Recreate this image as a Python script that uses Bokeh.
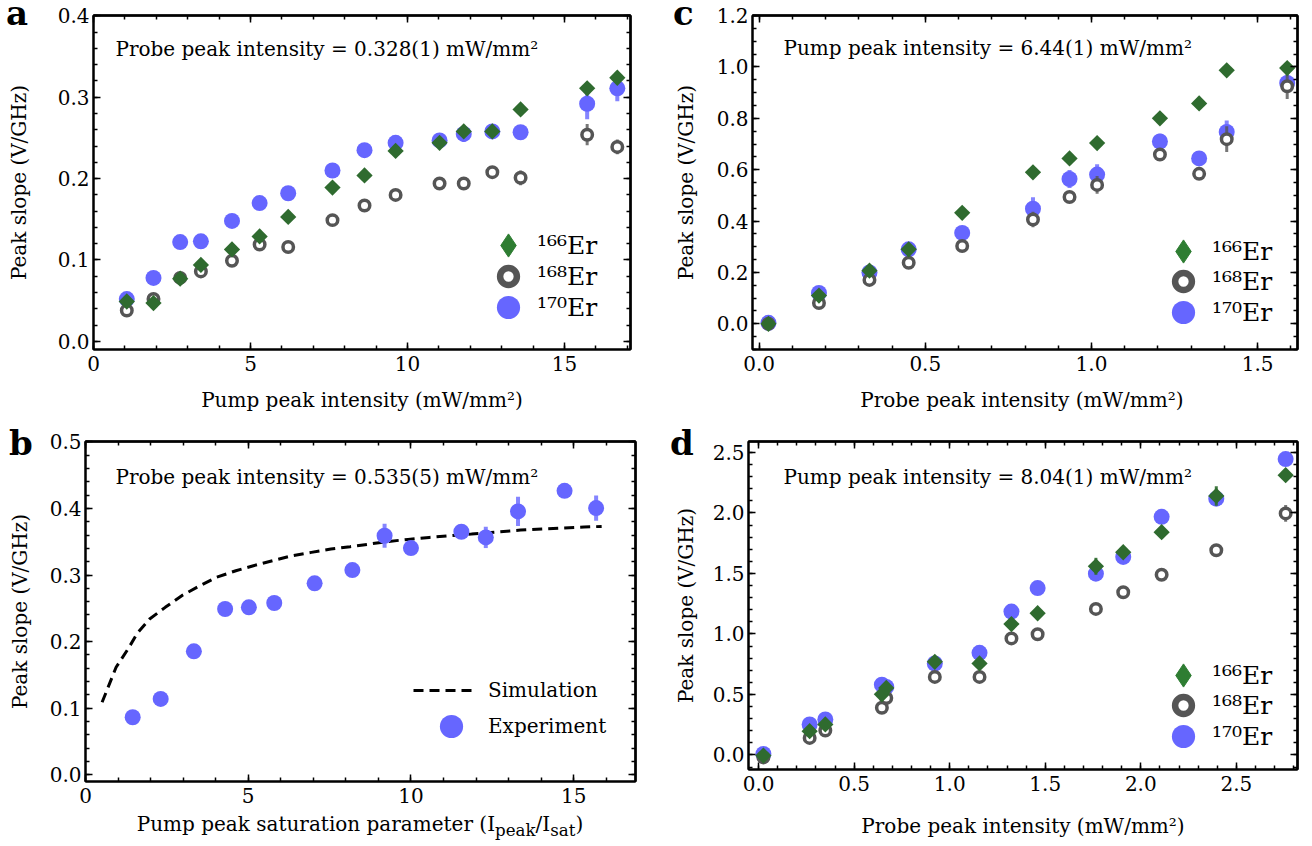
import math
from bokeh.plotting import figure
from bokeh.layouts import column, row
from bokeh.models import (LinearAxis, SingleIntervalTicker, FixedTicker, Range1d, Label, Legend,
                          LegendItem, NumeralTickFormatter, Div)
from bokeh.core.properties import value
from bokeh.embed import file_html
from bokeh.resources import INLINE

FONT = "DejaVu Serif"
GREEN = "#2f6b2f"
GREEN_LEG = "#2e7d32"
GRAY = "#555555"
BLUE = "#6666ff"

# ---------------- data ----------------
# panel a : slope vs pump intensity (probe 0.328 mW/mm2)
a_x = [1.06, 1.91, 2.76, 3.42, 4.41, 5.29, 6.20, 7.61, 8.63, 9.62, 11.02, 11.79, 12.70, 13.60, 15.72, 16.68]
a_166 = [0.049, 0.047, 0.077, 0.094, 0.113, 0.129, 0.153, 0.189, 0.204, 0.234, 0.244, 0.258, 0.258, 0.285, 0.311, 0.324]
a_168 = [0.038, 0.052, 0.078, 0.086, 0.099, 0.119, 0.116, 0.149, 0.167, 0.180, 0.194, 0.194, 0.208, 0.201, 0.254, 0.239]
a_170 = [0.052, 0.078, 0.122, 0.123, 0.148, 0.170, 0.182, 0.210, 0.235, 0.244, 0.247, 0.255, 0.258, 0.257, 0.292, 0.311]
a_166_err = [0.003, 0.003, 0.003, 0.004, 0.003, 0.004, 0.003, 0.004, 0.004, 0.004, 0.004, 0.006, 0.004, 0.004, 0.006, 0.007]
a_168_err = [0.003, 0.004, 0.003, 0.004, 0.003, 0.004, 0.003, 0.004, 0.004, 0.006, 0.005, 0.008, 0.006, 0.009, 0.013, 0.009]
a_170_err = [0.003, 0.003, 0.003, 0.005, 0.003, 0.004, 0.004, 0.009, 0.004, 0.008, 0.004, 0.010, 0.004, 0.004, 0.019, 0.016]

# panel b : slope vs saturation parameter (probe 0.535 mW/mm2)
b_x = [1.45, 2.31, 3.33, 4.29, 5.02, 5.80, 7.04, 8.20, 9.19, 10.00, 11.55, 12.30, 13.29, 14.72, 15.69]
b_y = [0.0865, 0.114, 0.1855, 0.249, 0.2515, 0.258, 0.2875, 0.3075, 0.359, 0.3405, 0.365, 0.3565, 0.3955, 0.4265, 0.4005]
b_err = [0.003, 0.003, 0.004, 0.004, 0.004, 0.005, 0.004, 0.005, 0.018, 0.008, 0.005, 0.016, 0.022, 0.010, 0.019]
b_sim_x = [0.51, 0.94, 1.32, 1.59, 1.97, 2.45, 2.99, 3.48, 4.02, 4.62, 5.16, 5.75, 6.35, 6.94,
           7.54, 8.13, 8.72, 9.32, 9.91, 10.56, 11.21, 11.86, 12.72, 13.37, 14.02, 14.67, 15.32, 15.86]
b_sim_y = [0.109, 0.1615, 0.190, 0.2125, 0.234, 0.2515, 0.270, 0.283, 0.2965, 0.3065, 0.314, 0.3215, 0.329, 0.334,
           0.339, 0.3425, 0.3465, 0.3505, 0.3535, 0.3565, 0.359, 0.3615, 0.365, 0.3675, 0.369, 0.3705, 0.372, 0.373]

# panel c : slope vs probe intensity (pump 6.44 mW/mm2)
c_x = [0.028, 0.180, 0.332, 0.450, 0.611, 0.824, 0.934, 1.017, 1.206, 1.324, 1.407, 1.589]
c_166 = [0.000, 0.110, 0.207, 0.290, 0.432, 0.590, 0.644, 0.704, 0.800, 0.858, 0.987, 0.996]
c_168 = [0.000, 0.081, 0.171, 0.238, 0.303, 0.406, 0.494, 0.541, 0.659, 0.584, 0.719, 0.925]
c_170 = [0.004, 0.120, 0.200, 0.290, 0.354, 0.448, 0.564, 0.581, 0.710, 0.644, 0.747, 0.938]
c_166_err = [0.005, 0.006, 0.008, 0.008, 0.008, 0.008, 0.008, 0.008, 0.008, 0.008, 0.008, 0.010]
c_168_err = [0.005, 0.008, 0.010, 0.010, 0.010, 0.030, 0.015, 0.035, 0.015, 0.012, 0.050, 0.050]
c_170_err = [0.005, 0.010, 0.010, 0.015, 0.020, 0.045, 0.035, 0.040, 0.030, 0.015, 0.045, 0.030]

# panel d : slope vs probe intensity (pump 8.04 mW/mm2)
d_x = [0.025, 0.267, 0.349, 0.645, 0.668, 0.922, 1.156, 1.323, 1.460, 1.765, 1.908, 2.109, 2.395, 2.758]
d_166 = [-0.005, 0.197, 0.252, 0.501, 0.554, 0.770, 0.756, 1.082, 1.171, 1.559, 1.675, 1.841, 2.140, 2.312]
d_168 = [-0.020, 0.141, 0.202, 0.390, 0.471, 0.645, 0.645, 0.963, 0.997, 1.207, 1.345, 1.489, 1.692, 1.996]
d_170 = [0.008, 0.252, 0.293, 0.581, 0.562, 0.756, 0.844, 1.185, 1.379, 1.498, 1.636, 1.968, 2.118, 2.445]
d_166_err = [0.01, 0.02, 0.02, 0.02, 0.03, 0.03, 0.02, 0.03, 0.02, 0.07, 0.04, 0.04, 0.08, 0.04]
d_168_err = [0.01, 0.02, 0.02, 0.02, 0.03, 0.02, 0.02, 0.02, 0.02, 0.02, 0.03, 0.02, 0.03, 0.07]
d_170_err = [0.01, 0.02, 0.02, 0.02, 0.02, 0.02, 0.02, 0.02, 0.02, 0.02, 0.03, 0.02, 0.04, 0.03]

iso_labels = ["¹⁶⁶Er", "¹⁶⁸Er", "¹⁷⁰Er"]


# ---------------- helpers ----------------
def positions(start, end, step):
    k0 = math.ceil(start / step - 1e-9)
    k1 = math.floor(end / step + 1e-9)
    return [round(k * step, 6) for k in range(k0, k1 + 1)]


def plain_ticks(p, side, rng, step, nminor):
    # tick marks only (no labels) on the top / right edges
    for ticks, length in ((positions(rng[0], rng[1], step), 7),
                          (positions(rng[0], rng[1], step / nminor), 4)):
        ax = LinearAxis(ticker=FixedTicker(ticks=[], minor_ticks=ticks),
                        major_label_standoff=0, axis_line_color="black", axis_line_width=2,
                        major_tick_in=0, major_tick_out=0,
                        minor_tick_in=length, minor_tick_out=0,
                        minor_tick_line_color="black", minor_tick_line_width=1.5)
        p.add_layout(ax, side)


def make_fig(W, H, bl, br, bt, bb, xr, yr, xint, xminor, yint, yminor, xfmt, yfmt,
             xlabel, ylabel, xlab_standoff, ylab_standoff, xtick_standoff=6):
    p = figure(width=W, height=H, x_range=Range1d(*xr), y_range=Range1d(*yr),
               output_backend="svg", toolbar_location=None,
               min_border_left=bl, min_border_right=br, min_border_top=bt, min_border_bottom=bb)
    p.xgrid.visible = False
    p.ygrid.visible = False
    p.background_fill_color = "white"
    p.border_fill_color = "white"
    p.outline_line_color = "black"
    p.outline_line_width = 2
    xa = p.below[0]
    ya = p.left[0]
    xa.ticker = SingleIntervalTicker(interval=xint, num_minor_ticks=xminor)
    ya.ticker = SingleIntervalTicker(interval=yint, num_minor_ticks=yminor)
    xa.formatter = NumeralTickFormatter(format=xfmt)
    ya.formatter = NumeralTickFormatter(format=yfmt)
    xa.axis_label = xlabel
    ya.axis_label = ylabel
    xa.axis_label_standoff = xlab_standoff
    ya.axis_label_standoff = ylab_standoff
    xa.major_label_standoff = xtick_standoff
    ya.major_label_standoff = 4
    for ax in (xa, ya):
        ax.axis_line_color = "black"
        ax.axis_line_width = 2
        ax.major_tick_in = 7
        ax.major_tick_out = 0
        ax.minor_tick_in = 4
        ax.minor_tick_out = 0
        ax.major_tick_line_width = 1.5
        ax.minor_tick_line_width = 1.5
        ax.major_tick_line_color = "black"
        ax.minor_tick_line_color = "black"
        ax.major_label_text_font = FONT
        ax.major_label_text_font_size = "20px"
        ax.major_label_text_color = "black"
        ax.axis_label_text_font = FONT
        ax.axis_label_text_font_style = "normal"
        ax.axis_label_text_font_size = "20px"
        ax.axis_label_text_color = "black"
    plain_ticks(p, "above", xr, xint, xminor)
    plain_ticks(p, "right", yr, yint, yminor)
    return p


def errbars(p, xs, ys, errs, color, width, alpha):
    lo = [y - e for y, e in zip(ys, errs)]
    hi = [y + e for y, e in zip(ys, errs)]
    p.segment(x0=xs, y0=lo, x1=xs, y1=hi, line_color=color, line_width=width, line_alpha=alpha)


def add_leg(p, rend, label, cx, cy, gh, gw=58, fs="25px", standoff=0):
    leg = Legend(items=[LegendItem(label=value(label), renderers=[rend])],
                 location=(cx - gw / 2, cy - gh / 2),
                 glyph_width=gw, glyph_height=gh, padding=0, margin=0, spacing=0,
                 label_standoff=standoff, label_height=10,
                 background_fill_alpha=0, border_line_alpha=0,
                 label_text_font=FONT, label_text_font_size=fs, label_text_color="black")
    p.add_layout(leg)


def three_isotopes(p, xs, y166, y168, y170, e166, e168, e170, leg_x, leg_y):
    errbars(p, xs, y170, e170, BLUE, 4, 0.8)
    p.scatter(x=xs, y=y170, marker="circle", size=16, fill_color=BLUE, line_color=BLUE, line_width=0)
    errbars(p, xs, y168, e168, GRAY, 3, 0.8)
    p.scatter(x=xs, y=y168, marker="circle", size=10.5, fill_color="white", line_color=GRAY, line_width=3.5)
    errbars(p, xs, y166, e166, GREEN, 3, 0.9)
    p.scatter(x=xs, y=y166, marker="square", angle=0.785398, size=11.5, fill_color=GREEN, line_color=GREEN,
              line_width=0)
    # legend-only glyph styles (larger markers, as in the reference legend); hidden in the plot
    l166 = p.scatter(x=xs, y=y166, marker="diamond", size=10, fill_color=GREEN_LEG, line_color=GREEN_LEG,
                     visible=False)
    l168 = p.scatter(x=xs, y=y168, marker="circle", size=10, fill_color="white", line_color=GRAY,
                     line_width=6.5, visible=False)
    l170 = p.scatter(x=xs, y=y170, marker="circle", size=10, fill_color=BLUE, line_color=BLUE, line_width=0,
                     visible=False)
    add_leg(p, l166, iso_labels[0], leg_x, leg_y[0], 60)
    add_leg(p, l168, iso_labels[1], leg_x, leg_y[1], 42)
    add_leg(p, l170, iso_labels[2], leg_x, leg_y[2], 58)


def annot(p, text, x, y):
    p.add_layout(Label(x=x, y=y, x_units="screen", y_units="screen", text=text,
                       text_font=FONT, text_font_size="20px", text_baseline="middle", text_color="black"))


def letter_div(t, left, top):
    return Div(text=t, width=40, height=40, margin=0,
               styles={"position": "absolute", "left": f"{left}px", "top": f"{top}px",
                       "font-family": FONT, "font-weight": "bold", "font-size": "34px",
                       "line-height": "34px", "color": "black", "padding": "0", "margin": "0",
                       "z-index": "10"})


def title_div(html, left, top, width):
    return Div(text=html, width=width, height=28, margin=0,
               styles={"position": "absolute", "left": f"{left}px", "top": f"{top}px",
                       "width": f"{width}px", "text-align": "center",
                       "font-family": FONT, "font-size": "20px", "line-height": "26px",
                       "color": "black", "padding": "0", "margin": "0", "z-index": "10"})


# ---------------- panel a ----------------
pa = make_fig(660, 425, 93, 30, 15, 76, (0, 17.1), (-0.01, 0.4005), 5, 5, 0.1, 5, "0", "0.0",
              "Pump peak intensity (mW/mm²)", "Peak slope (V/GHz)", 14, 24)
three_isotopes(pa, a_x, a_166, a_168, a_170, a_166_err, a_168_err, a_170_err, 415, (104, 73, 42))
annot(pa, "Probe peak intensity = 0.328(1) mW/mm²", 22, 301)

# ---------------- panel c ----------------
pc = make_fig(652, 425, 92, 15, 15, 75, (-0.02, 1.62), (-0.1, 1.2005), 0.5, 5, 0.2, 4, "0.0", "0.0",
              "Probe peak  intensity (mW/mm²)", "Peak slope (V/GHz)", 14, 16)
three_isotopes(pc, c_x, c_166, c_168, c_170, c_166_err, c_168_err, c_170_err, 431, (98, 68, 37))
annot(pc, "Pump peak intensity = 6.44(1) mW/mm²", 31, 302)

# ---------------- panel b ----------------
# x-axis title of panel b is drawn as an HTML text below the axis (real sub-scripts)
pb = make_fig(660, 421, 85, 25, 16, 65, (0, 16.9), (-0.01, 0.5005), 5, 5, 0.1, 5, "0", "0.0",
              None, "Peak slope (V/GHz)", 0, 15, xtick_standoff=6)
sim = pb.line(x=b_sim_x, y=b_sim_y, line_color="black", line_width=3, line_dash="10 6")
errbars(pb, b_x, b_y, b_err, BLUE, 4, 0.8)
pb.scatter(x=b_x, y=b_y, marker="circle", size=16, fill_color=BLUE, line_color=BLUE, line_width=0)
exp_leg = pb.scatter(x=b_x, y=b_y, marker="circle", size=10, fill_color=BLUE, line_color=BLUE, line_width=0,
                     visible=False)
add_leg(pb, sim, "Simulation", 358, 91, 30, gw=60, fs="20px", standoff=15)
add_leg(pb, exp_leg, "Experiment", 366, 55, 58, gw=58, fs="20px", standoff=8)
annot(pb, "Probe peak intensity = 0.535(5) mW/mm²", 30, 305)

# ---------------- panel d ----------------
pd_ = make_fig(652, 421, 88, 15, 16, 77, (-0.053, 2.82), (-0.12, 2.59), 0.5, 5, 0.5, 5, "0.0", "0.0",
               "Probe peak intensity (mW/mm²)", "Peak slope (V/GHz)", 20, 12)
three_isotopes(pd_, d_x, d_166, d_168, d_170, d_166_err, d_168_err, d_170_err, 435, (94, 64, 33))
annot(pd_, "Pump peak intensity = 8.04(1) mW/mm²", 35, 293)

# each lower panel wrapped separately so that their frames are not forced to the same height
layout = column(row(pa, pc), row(column(pb), column(pd_)),
                letter_div("a", 6, -4), letter_div("b", 9, 426),
                letter_div("c", 673, -4), letter_div("d", 670, 426),
                title_div("Pump peak saturation parameter (I<sub>peak</sub>/I<sub>sat</sub>)", 85, 811, 550))
open("out.html", "w").write(file_html(layout, INLINE))
